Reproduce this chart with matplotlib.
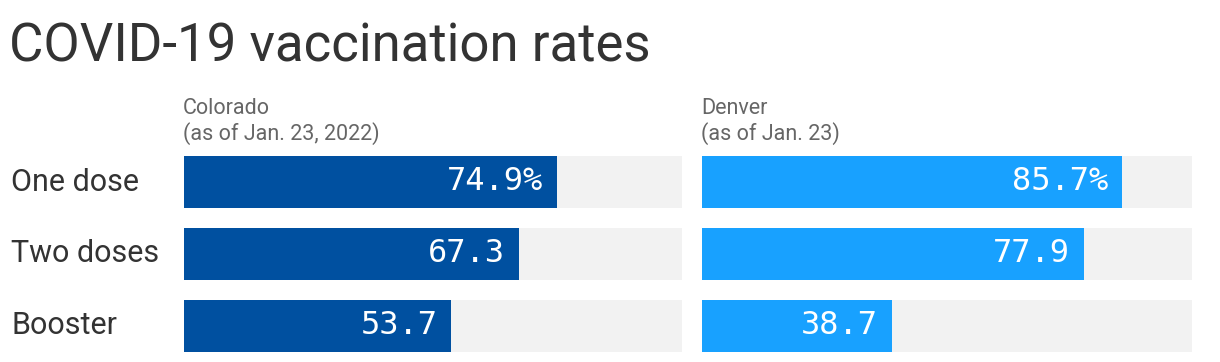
import matplotlib.pyplot as plt
from matplotlib.transforms import offset_copy

categories = ["One dose", "Two doses", "Booster"]
colorado = [74.9, 67.3, 53.7]
denver = [85.7, 77.9, 38.7]
colorado_labels = ["74.9%", "67.3", "53.7"]
denver_labels = ["85.7%", "77.9", "38.7"]

W, H = 1220, 362
fig = plt.figure(figsize=(W / 100, H / 100), dpi=100)

sans = ["Roboto", "DejaVu Sans"]
dark = "#333333"
grey_txt = "#666666"

fig.text(9 / W, 1 - 62 / H, "COVID-19 vaccination rates", fontsize=38,
         family=sans, color=dark, va="baseline", ha="left")


def panel(left, width, vals, labels, color, header):
    ax = fig.add_axes([left / W, 10 / H, width / W, 196 / H])
    y = range(len(vals))
    ax.barh(y, [100] * len(vals), height=52 / 72, color="#f2f2f2")
    ax.barh(y, vals, height=52 / 72, color=color)
    ax.set_xlim(0, 100)
    ax.set_ylim(2 + 0.5 * 52 / 72, -0.5 * 52 / 72)
    tr = offset_copy(ax.transData, fig=fig, x=-14, y=0, units="dots")
    for i, (v, lab) in enumerate(zip(vals, labels)):
        ax.text(v, i, lab, transform=tr, ha="right", va="center",
                family="DejaVu Sans Mono", fontsize=23, color="white")
    ax.axis("off")
    fig.text((left - 1) / W, 1 - 114 / H, header[0], fontsize=15.5,
             family=sans, color=grey_txt, va="baseline")
    fig.text((left - 1) / W, 1 - 140 / H, header[1], fontsize=15.5,
             family=sans, color=grey_txt, va="baseline")
    return ax


ax1 = panel(184, 498, colorado, colorado_labels, "#0050a0",
            ["Colorado", "(as of Jan. 23, 2022)"])
ax2 = panel(702, 490, denver, denver_labels, "#18a1ff",
            ["Denver", "(as of Jan. 23)"])

for i, c in enumerate(categories):
    fig.text(11 / W, 1 - (182 + 72 * i) / H, c, fontsize=22, family=sans,
             color=dark, va="center", ha="left")

fig.savefig("out.png", dpi=100)
